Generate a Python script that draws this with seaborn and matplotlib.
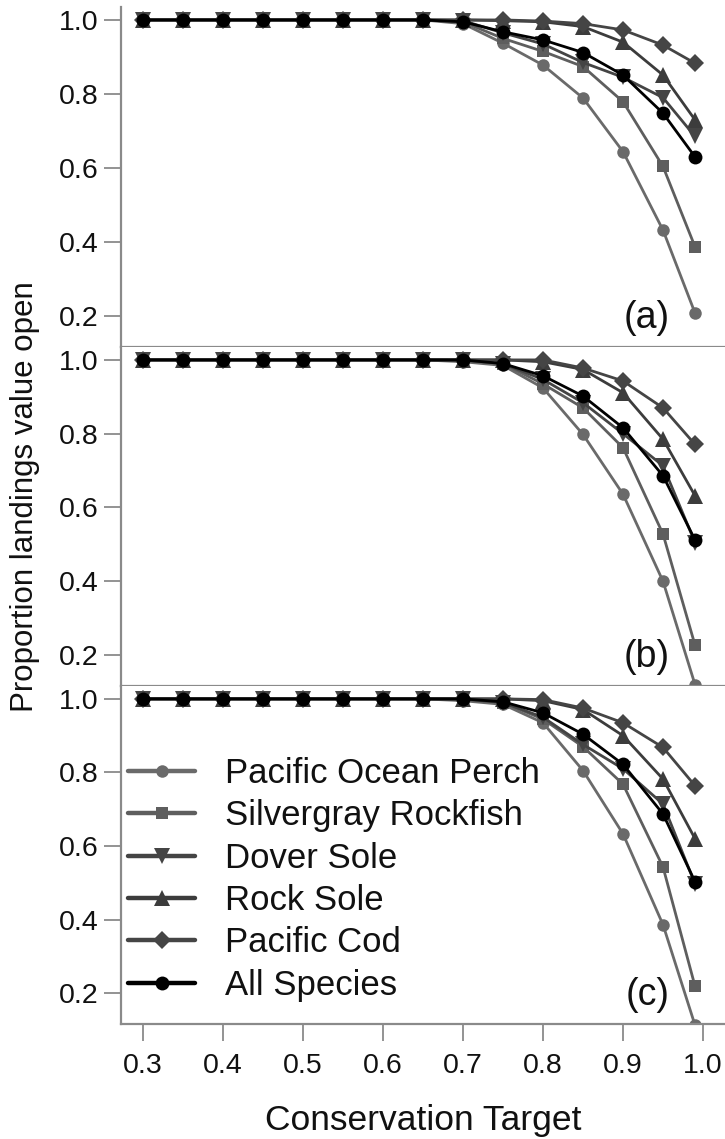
import numpy as np
import pandas as pd
import matplotlib
matplotlib.use("Agg")
import matplotlib.pyplot as plt
import seaborn as sns

sns.set_style("ticks")
plt.rcParams['font.family'] = ['Liberation Sans', 'DejaVu Sans']

# ---------------- data ----------------
targets = [0.3, 0.35, 0.4, 0.45, 0.5, 0.55, 0.6, 0.65, 0.7, 0.75, 0.8, 0.85, 0.9, 0.95, 0.99]
species = ["Pacific Ocean Perch", "Silvergray Rockfish", "Dover Sole",
           "Rock Sole", "Pacific Cod", "All Species"]
flat = [1.0] * 8

pop_a = flat + [0.990, 0.937, 0.878, 0.789, 0.644, 0.432, 0.208]
sgr_a = flat + [0.995, 0.950, 0.915, 0.874, 0.779, 0.604, 0.387]
dov_a = flat + [0.998, 0.965, 0.935, 0.885, 0.845, 0.790, 0.685]
roc_a = flat + [1.000, 0.998, 0.995, 0.982, 0.940, 0.851, 0.730]
cod_a = flat + [1.000, 1.000, 0.997, 0.990, 0.973, 0.932, 0.883]
all_a = flat + [0.995, 0.968, 0.946, 0.912, 0.851, 0.748, 0.630]

pop_b = flat + [0.995, 0.985, 0.924, 0.798, 0.636, 0.400, 0.120]
sgr_b = flat + [0.998, 0.990, 0.935, 0.870, 0.762, 0.528, 0.227]
dov_b = flat + [1.000, 0.990, 0.947, 0.884, 0.800, 0.713, 0.505]
roc_b = flat + [1.000, 1.000, 0.995, 0.974, 0.911, 0.785, 0.632]
cod_b = flat + [1.000, 1.000, 1.000, 0.978, 0.943, 0.870, 0.771]
all_b = flat + [1.000, 0.990, 0.957, 0.902, 0.816, 0.686, 0.512]

pop_c = flat + [0.995, 0.985, 0.935, 0.805, 0.633, 0.386, 0.113]
sgr_c = flat + [0.998, 0.990, 0.945, 0.870, 0.768, 0.543, 0.219]
dov_c = flat + [1.000, 0.990, 0.950, 0.876, 0.810, 0.714, 0.497]
roc_c = flat + [1.000, 1.000, 0.995, 0.971, 0.900, 0.782, 0.620]
cod_c = flat + [1.000, 1.000, 0.998, 0.975, 0.935, 0.868, 0.764]
all_c = flat + [1.000, 0.992, 0.962, 0.904, 0.822, 0.687, 0.503]

panels = {
    "(a)": [pop_a, sgr_a, dov_a, roc_a, cod_a, all_a],
    "(b)": [pop_b, sgr_b, dov_b, roc_b, cod_b, all_b],
    "(c)": [pop_c, sgr_c, dov_c, roc_c, cod_c, all_c],
}
xticks = [0.3, 0.4, 0.5, 0.6, 0.7, 0.8, 0.9, 1.0]
yticks = [0.2, 0.4, 0.6, 0.8, 1.0]

# ---------------- style ----------------
colors = {"Pacific Ocean Perch": "#6a6a6a", "Silvergray Rockfish": "#5e5e5e",
          "Dover Sole": "#444444", "Rock Sole": "#3c3c3c",
          "Pacific Cod": "#454545", "All Species": "#000000"}
markers = {"Pacific Ocean Perch": "o", "Silvergray Rockfish": "s",
           "Dover Sole": "v", "Rock Sole": "^", "Pacific Cod": "D",
           "All Species": "o"}
msize = {"Pacific Ocean Perch": 9, "Silvergray Rockfish": 9,
         "Dover Sole": 11, "Rock Sole": 11, "Pacific Cod": 9.5,
         "All Species": 10}
spine_col = "#8a8a8a"

W, H = 725, 1139
fig = plt.figure(figsize=(W / 100, H / 100), dpi=100)
left_px, right_px = 121, 725
bounds = [(7, 347), (347, 686), (686, 1024)]

axes = []
for (label, series), (top, bot) in zip(panels.items(), bounds):
    ax = fig.add_axes([left_px / W, 1 - bot / H, (right_px - left_px) / W, (bot - top) / H])
    rows = []
    for sp, vals in zip(species, series):
        for xv, yv in zip(targets, vals):
            rows.append({"target": xv, "value": yv, "species": sp})
    df = pd.DataFrame(rows)
    for sp in species:
        sns.lineplot(data=df[df.species == sp], x="target", y="value", ax=ax,
                     color=colors[sp], marker=markers[sp], markersize=msize[sp],
                     markeredgewidth=0, linewidth=2.0, label=sp, legend=False,
                     errorbar=None)
    ax.set_xlim(0.2725, 1.0275)
    ax.set_ylim(0.116, 1.035)
    ax.set_yticks(yticks)
    ax.set_yticklabels([f"{v:.1f}" for v in yticks])
    ax.set_xlabel("")
    ax.set_ylabel("")
    for s in ["top", "right"]:
        ax.spines[s].set_visible(False)
    for s in ["left", "bottom"]:
        ax.spines[s].set_color(spine_col)
        ax.spines[s].set_linewidth(1.6)
    ax.tick_params(axis="y", direction="out", length=12, width=1.3,
                   color=spine_col, labelsize=20.5, pad=4, labelcolor="#111111")
    ax.text(0.909, 0.056, label, transform=ax.transAxes, ha="right",
            va="baseline", fontsize=27, color="#111111")
    axes.append(ax)

for ax in axes[:2]:
    ax.set_xticks(xticks)
    ax.tick_params(axis="x", bottom=False, labelbottom=False)

axc = axes[2]
axc.set_xticks(xticks)
axc.set_xticklabels([f"{v:.1f}" for v in xticks])
axc.tick_params(axis="x", direction="out", length=12, width=1.3,
                color=spine_col, labelsize=20.5, pad=9, labelcolor="#111111")
axc.set_xlabel("Conservation Target", fontsize=25.5, labelpad=18, color="#111111")

handles, labels = axc.get_legend_handles_labels()
leg = axc.legend(handles, labels, loc="upper left", bbox_to_anchor=(0.0116, 0.79),
                 frameon=False, fontsize=25, handlelength=1.93, handletextpad=0.86,
                 labelspacing=0.27, borderaxespad=0.0, borderpad=0.0)
for h in leg.legend_handles:
    h.set_linewidth(3.2)
for t in leg.get_texts():
    t.set_color("#111111")

fig.text(25 / W, 1 - 497 / H, "Proportion landings value open", rotation=90,
         ha="center", va="center", fontsize=22.5, color="#111111")

fig.savefig("out.png", dpi=100)
